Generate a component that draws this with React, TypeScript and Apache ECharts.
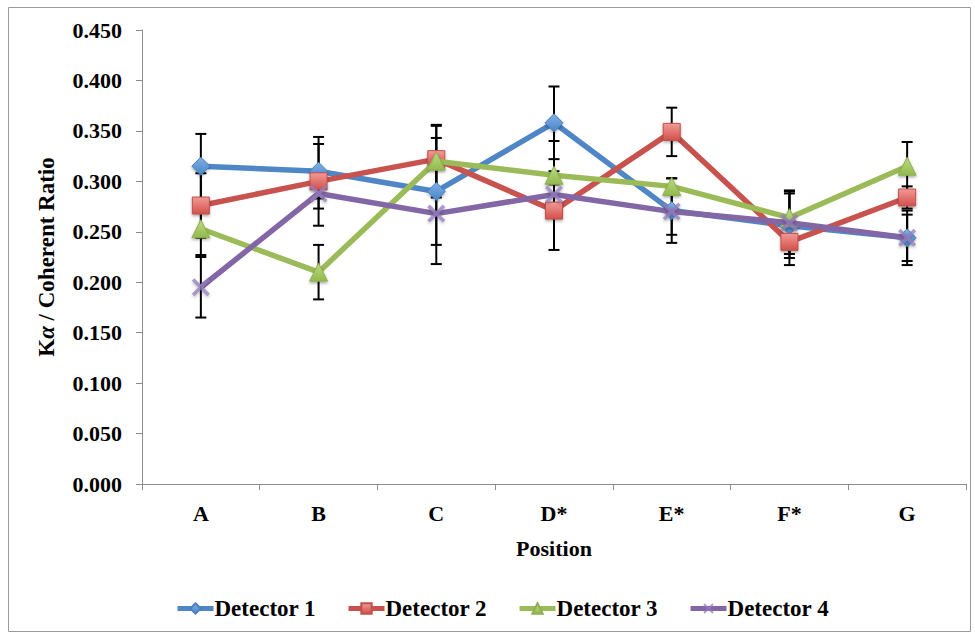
import React, { useEffect, useRef } from "react";
import * as echarts from "echarts";

const categories = ["A", "B", "C", "D*", "E*", "F*", "G"];
const yTicks = { min: 0, max: 0.45, interval: 0.05 };

const detector1 = [0.315, 0.31, 0.29, 0.358, 0.271, 0.256, 0.244];
const detector2 = [0.276, 0.3, 0.322, 0.271, 0.349, 0.24, 0.284];
const detector3 = [0.253, 0.21, 0.32, 0.306, 0.295, 0.264, 0.315];
const detector4 = [0.195, 0.288, 0.268, 0.287, 0.27, 0.259, 0.244];

const error1 = [0.032, 0.027, 0.053, 0.036, 0.032, 0.032, 0.027];
const error2 = [0.032, 0.044, 0.033, 0.039, 0.024, 0.023, 0.011];
const error3 = [0.026, 0.027, 0.036, 0.034, 0.008, 0.027, 0.024];
const error4 = [0.03, 0.015, 0.05, 0.01, 0.023, 0.031, 0.023];

const seriesNames = ["Detector 1", "Detector 2", "Detector 3", "Detector 4"];

const FONT = "'Liberation Serif', 'Times New Roman', serif";

const X_PATH =
  "path://M0,1.4 L1.4,0 L5,3.6 L8.6,0 L10,1.4 L6.4,5 L10,8.6 L8.6,10 L5,6.4 L1.4,10 L0,8.6 L3.6,5 Z";

export default function App() {
  const ref = useRef<HTMLDivElement>(null);

  useEffect(() => {
    if (!ref.current) return;
    const chart = echarts.init(ref.current, null, { renderer: "svg" });

    const grad = (top: string, bottom: string) =>
      new echarts.graphic.LinearGradient(0, 0, 0, 1, [
        { offset: 0, color: top },
        { offset: 1, color: bottom },
      ]);

    const lineColors = ["#4F86C6", "#C8524E", "#9BBB59", "#8266A6"];
    const markerFills = [
      grad("#7FB0E6", "#4A85C8"),
      grad("#F29A96", "#D2504B"),
      grad("#BCDB82", "#93B94E"),
      "rgba(150,125,190,0.75)",
    ];
    const markerBorders = ["#4A80C0", "#C0504D", "#8FB050", "rgba(150,125,190,0.75)"];
    const symbols = ["diamond", "rect", "triangle", X_PATH];
    const symbolSizes = [18, 17, 18, 18];
    const values = [detector1, detector2, detector3, detector4];
    const errors = [error1, error2, error3, error4];

    const errorSeries = values.map((vals, s) => ({
      type: "custom",
      name: "err" + s,
      z: 1,
      silent: true,
      data: vals.map((v, i) => [i, v - errors[s][i], v + errors[s][i]]),
      encode: { x: 0, y: [1, 2] },
      renderItem: (params: any, api: any) => {
        const lo = api.coord([api.value(0), api.value(1)]);
        const hi = api.coord([api.value(0), api.value(2)]);
        const cw = 5.5;
        const st = { stroke: "#000", lineWidth: 2 };
        return {
          type: "group",
          children: [
            { type: "line", shape: { x1: lo[0], y1: lo[1], x2: hi[0], y2: hi[1] }, style: st },
            { type: "line", shape: { x1: lo[0] - cw, y1: lo[1], x2: lo[0] + cw, y2: lo[1] }, style: st },
            { type: "line", shape: { x1: hi[0] - cw, y1: hi[1], x2: hi[0] + cw, y2: hi[1] }, style: st },
          ],
        };
      },
    }));

    const lineSeries = values.map((vals, s) => ({
      type: "line",
      name: seriesNames[s],
      z: 2 + s,
      data: vals,
      symbol: symbols[s],
      symbolSize: symbolSizes[s],
      showAllSymbol: true,
      lineStyle: { color: lineColors[s], width: 5.5 },
      itemStyle: {
        color: markerFills[s],
        borderColor: markerBorders[s],
        borderWidth: s === 3 ? 0 : 1,
        shadowColor: "rgba(0,0,0,0.35)",
        shadowBlur: 3,
        shadowOffsetY: 1.5,
      },
      emphasis: { disabled: true },
    }));

    chart.setOption({
      animation: false,
      backgroundColor: "#ffffff",
      graphic: [
        {
          type: "rect",
          silent: true,
          shape: { x: 8.5, y: 7.5, width: 962, height: 624 },
          style: { fill: "none", stroke: "#9a9a9a", lineWidth: 1 },
        },
      ],
      grid: { left: 142, top: 30, width: 824, height: 454, containLabel: false },
      legend: {
        left: 170,
        top: 592,
        itemWidth: 36,
        itemHeight: 13,
        itemGap: 30,
        data: seriesNames,
        lineStyle: { width: 5 },
        textStyle: { fontFamily: FONT, fontWeight: "bold", fontSize: 23, color: "#000", padding: [0, 0, 0, -4] },
      },
      xAxis: {
        type: "category",
        data: categories,
        boundaryGap: true,
        name: "Position",
        nameLocation: "middle",
        nameGap: 53,
        nameTextStyle: { fontFamily: FONT, fontWeight: "bold", fontSize: 22, color: "#000" },
        axisLine: { lineStyle: { color: "#8c8c8c", width: 1 } },
        axisTick: { show: true, length: 6, lineStyle: { color: "#8c8c8c" } },
        axisLabel: { fontFamily: FONT, fontWeight: "bold", fontSize: 22, color: "#000", margin: 18 },
        splitLine: { show: false },
      },
      yAxis: {
        type: "value",
        min: yTicks.min,
        max: yTicks.max,
        interval: yTicks.interval,
        name: "K{i|α} / Coherent Ratio",
        nameLocation: "middle",
        nameGap: 84,
        nameTextStyle: {
          fontFamily: FONT,
          fontWeight: "bold",
          fontSize: 23,
          color: "#000",
          rich: {
            i: { fontFamily: FONT, fontWeight: "bold", fontStyle: "italic", fontSize: 23, color: "#000" },
          },
        },
        axisLine: { show: true, lineStyle: { color: "#8c8c8c", width: 1 } },
        axisTick: { show: true, length: 6, lineStyle: { color: "#8c8c8c" } },
        axisLabel: {
          fontFamily: FONT,
          fontWeight: "bold",
          fontSize: 22,
          color: "#000",
          margin: 20,
          formatter: (v: number) => v.toFixed(3),
        },
        splitLine: { show: false },
      },
      series: [...errorSeries, ...lineSeries],
    } as any);

    return () => chart.dispose();
  }, []);

  return (
    <div
      ref={ref}
      style={{ position: "fixed", left: 0, top: 0, width: 975, height: 637, background: "#fff" }}
    />
  );
}
